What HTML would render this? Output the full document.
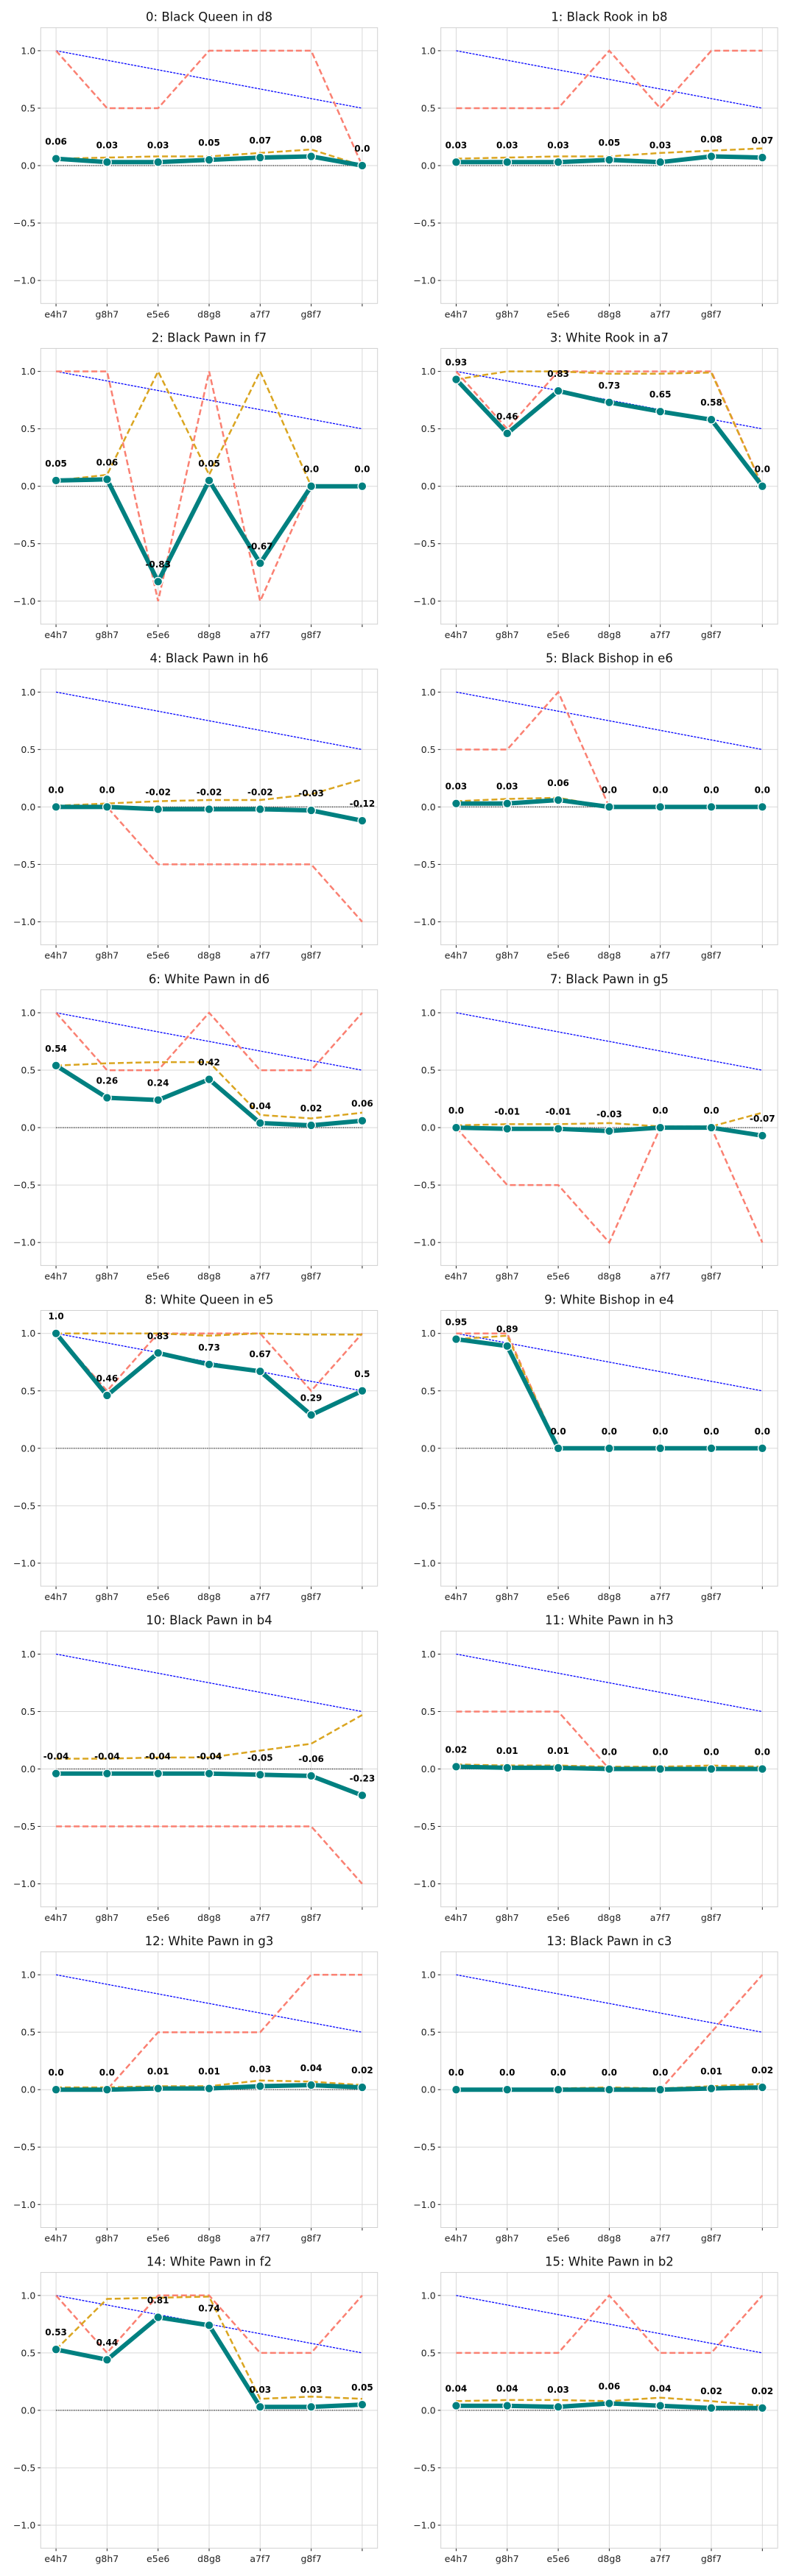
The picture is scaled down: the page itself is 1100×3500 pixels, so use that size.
<!DOCTYPE html>
<html><head><meta charset="utf-8"><style>
html,body{margin:0;padding:0;background:#fff;}
svg{display:block;font-family:"DejaVu Sans","Liberation Sans",sans-serif;}
</style></head><body>
<svg id="chart" width="1100" height="3500" viewBox="0 0 1100 3500" xmlns="http://www.w3.org/2000/svg"></svg>
<script>
const categories = ["e4h7","g8h7","e5e6","d8g8","a7f7","g8f7",""];
const titles = ["0: Black Queen in d8","1: Black Rook in b8","2: Black Pawn in f7","3: White Rook in a7","4: Black Pawn in h6","5: Black Bishop in e6","6: White Pawn in d6","7: Black Pawn in g5","8: White Queen in e5","9: White Bishop in e4","10: Black Pawn in b4","11: White Pawn in h3","12: White Pawn in g3","13: Black Pawn in c3","14: White Pawn in f2","15: White Pawn in b2"];
const yTicks = [-1.0,-0.5,0.0,0.5,1.0];
const yTickLabels = ["\u22121.0","\u22120.5","0.0","0.5","1.0"];
const refLine = [1.0,0.9167,0.8333,0.75,0.6667,0.5833,0.5];
const teal = [
[0.06,0.03,0.03,0.05,0.07,0.08,0.0],
[0.03,0.03,0.03,0.05,0.03,0.08,0.07],
[0.05,0.06,-0.83,0.05,-0.67,0.0,0.0],
[0.93,0.46,0.83,0.73,0.65,0.58,0.0],
[0.0,0.0,-0.02,-0.02,-0.02,-0.03,-0.12],
[0.03,0.03,0.06,0.0,0.0,0.0,0.0],
[0.54,0.26,0.24,0.42,0.04,0.02,0.06],
[0.0,-0.01,-0.01,-0.03,0.0,0.0,-0.07],
[1.0,0.46,0.83,0.73,0.67,0.29,0.5],
[0.95,0.89,0.0,0.0,0.0,0.0,0.0],
[-0.04,-0.04,-0.04,-0.04,-0.05,-0.06,-0.23],
[0.02,0.01,0.01,0.0,0.0,0.0,0.0],
[0.0,0.0,0.01,0.01,0.03,0.04,0.02],
[0.0,0.0,0.0,0.0,0.0,0.01,0.02],
[0.53,0.44,0.81,0.74,0.03,0.03,0.05],
[0.04,0.04,0.03,0.06,0.04,0.02,0.02]];
const salmon = [
[1,0.5,0.5,1,1,1,0],
[0.5,0.5,0.5,1,0.5,1,1],
[1,1,-1,1,-1,0,0],
[1,0.5,1,1,1,1,0],
[0,0,-0.5,-0.5,-0.5,-0.5,-1],
[0.5,0.5,1,0,0,0,0],
[1,0.5,0.5,1,0.5,0.5,1],
[0,-0.5,-0.5,-1,0,0,-1],
[1,0.5,1,1,1,0.5,1],
[1,1,0,0,0,0,0],
[-0.5,-0.5,-0.5,-0.5,-0.5,-0.5,-1],
[0.5,0.5,0.5,0,0,0,0],
[0,0,0.5,0.5,0.5,1,1],
[0,0,0,0,0,0.5,1],
[1,0.5,1,1,0.5,0.5,1],
[0.5,0.5,0.5,1,0.5,0.5,1]];
const golden = [
[0.06,0.07,0.08,0.08,0.11,0.14,0.0],
[0.06,0.07,0.08,0.08,0.11,0.13,0.15],
[0.05,0.1,1,0.1,1,0.0,0.0],
[0.93,1,1,0.98,0.98,0.99,0.0],
[0.01,0.03,0.05,0.06,0.06,0.11,0.24],
[0.05,0.07,0.08,0,0,0,0],
[0.54,0.56,0.57,0.57,0.11,0.08,0.13],
[0.02,0.03,0.03,0.04,0.01,0.01,0.13],
[1,1,1,0.98,1,0.99,0.99],
[0.95,0.98,0,0,0,0,0],
[0.09,0.09,0.1,0.1,0.16,0.22,0.47],
[0.04,0.03,0.03,0.02,0.02,0.03,0.02],
[0.02,0.02,0.03,0.03,0.08,0.07,0.04],
[0,0,0.01,0.02,0.01,0.03,0.05],
[0.53,0.97,0.98,0.99,0.1,0.12,0.1],
[0.08,0.09,0.09,0.08,0.11,0.08,0.04]];

const NS = "http://www.w3.org/2000/svg";
const svg = document.getElementById('chart');
function mk(tag, attrs, parent){
  const e = document.createElementNS(NS, tag);
  for (const k in attrs) e.setAttribute(k, attrs[k]);
  (parent||svg).appendChild(e);
  return e;
}
const PW = 457.4, PH = 374.6, ROWH = 435.7, TOP0 = 37.7;
const LEFTS = [55.3, 598.7];
function fmt(v){ return (Math.round(v) === v) ? v.toFixed(1) : String(v); }

titles.forEach((title, p) => {
  const col = p % 2, row = Math.floor(p / 2);
  const L = LEFTS[col], T = TOP0 + row * ROWH;
  const sx = i => L + (i + 0.3) / 6.6 * PW;
  const sy = v => T + (1.2 - v) / 2.4 * PH;
  const g = mk('g', {});
  
  

  const t = mk('text', {x: L + PW/2, y: T - 9, 'text-anchor':'middle', 'font-size':'16.5', fill:'#111'}, g);
  t.textContent = title;
  
  

  // grid
  categories.forEach((c, i) => {
    mk('line', {x1:sx(i), x2:sx(i), y1:T, y2:T+PH, stroke:'#d9d9d9', 'stroke-width':1}, g);
    mk('line', {x1:sx(i), x2:sx(i), y1:T+PH, y2:T+PH+4, stroke:'#222', 'stroke-width':1}, g);
    const tl = mk('text', {x:sx(i), y:T+PH+19, 'text-anchor':'middle', 'font-size':'12.5', fill:'#222'}, g);
    tl.textContent = c;
    
    
  });
  yTicks.forEach((v, k) => {
    mk('line', {x1:L, x2:L+PW, y1:sy(v), y2:sy(v), stroke:'#d9d9d9', 'stroke-width':1}, g);
    mk('line', {x1:L-4, x2:L, y1:sy(v), y2:sy(v), stroke:'#222', 'stroke-width':1}, g);
    const yl = mk('text', {x:L-7, y:sy(v)+4.5, 'text-anchor':'end', 'font-size':'12.5', fill:'#222'}, g);
    yl.textContent = yTickLabels[k];
    
    
  });
  const fr = mk('rect', {x:L, y:T, width:PW, height:PH, fill:'none', stroke:'#d0d0d0', 'stroke-width':1}, g);
  
  

  const pts = arr => arr.map((v,i) => sx(i).toFixed(1) + ',' + sy(v).toFixed(1)).join(' ');
  const zero = mk('line', {x1:sx(0), x2:sx(6), y1:sy(0), y2:sy(0), stroke:'#000', 'stroke-width':1.2, 'stroke-dasharray':'1,1.5'}, g);
  
  
  const bl = mk('polyline', {points:pts(refLine), fill:'none', stroke:'#0000ff', 'stroke-width':1.3, 'stroke-dasharray':'3,1.5'}, g);
  
  
  const rl = mk('polyline', {points:pts(salmon[p]), fill:'none', stroke:'#fa8072', 'stroke-width':2.5, 'stroke-dasharray':'8,4'}, g);
  
  
  const ol = mk('polyline', {points:pts(golden[p]), fill:'none', stroke:'#daa520', 'stroke-width':2.5, 'stroke-dasharray':'8,4'}, g);
  
  
  const tl2 = mk('polyline', {points:pts(teal[p]), fill:'none', stroke:'#008080', 'stroke-width':6, 'stroke-linejoin':'round'}, g);
  
  
  teal[p].forEach((v, i) => {
    const c = mk('circle', {cx:sx(i), cy:sy(v), r:5.8, fill:'#008080', stroke:'#fff', 'stroke-width':1.3}, g);
    
    
  });
  teal[p].forEach((v, i) => {
    const lb = mk('text', {x:sx(i), y:sy(v)-19, 'text-anchor':'middle', 'font-size':'12', 'font-weight':'bold', fill:'#000'}, g);
    lb.textContent = fmt(v);
    
    
  });
});
</script>
</body></html>
